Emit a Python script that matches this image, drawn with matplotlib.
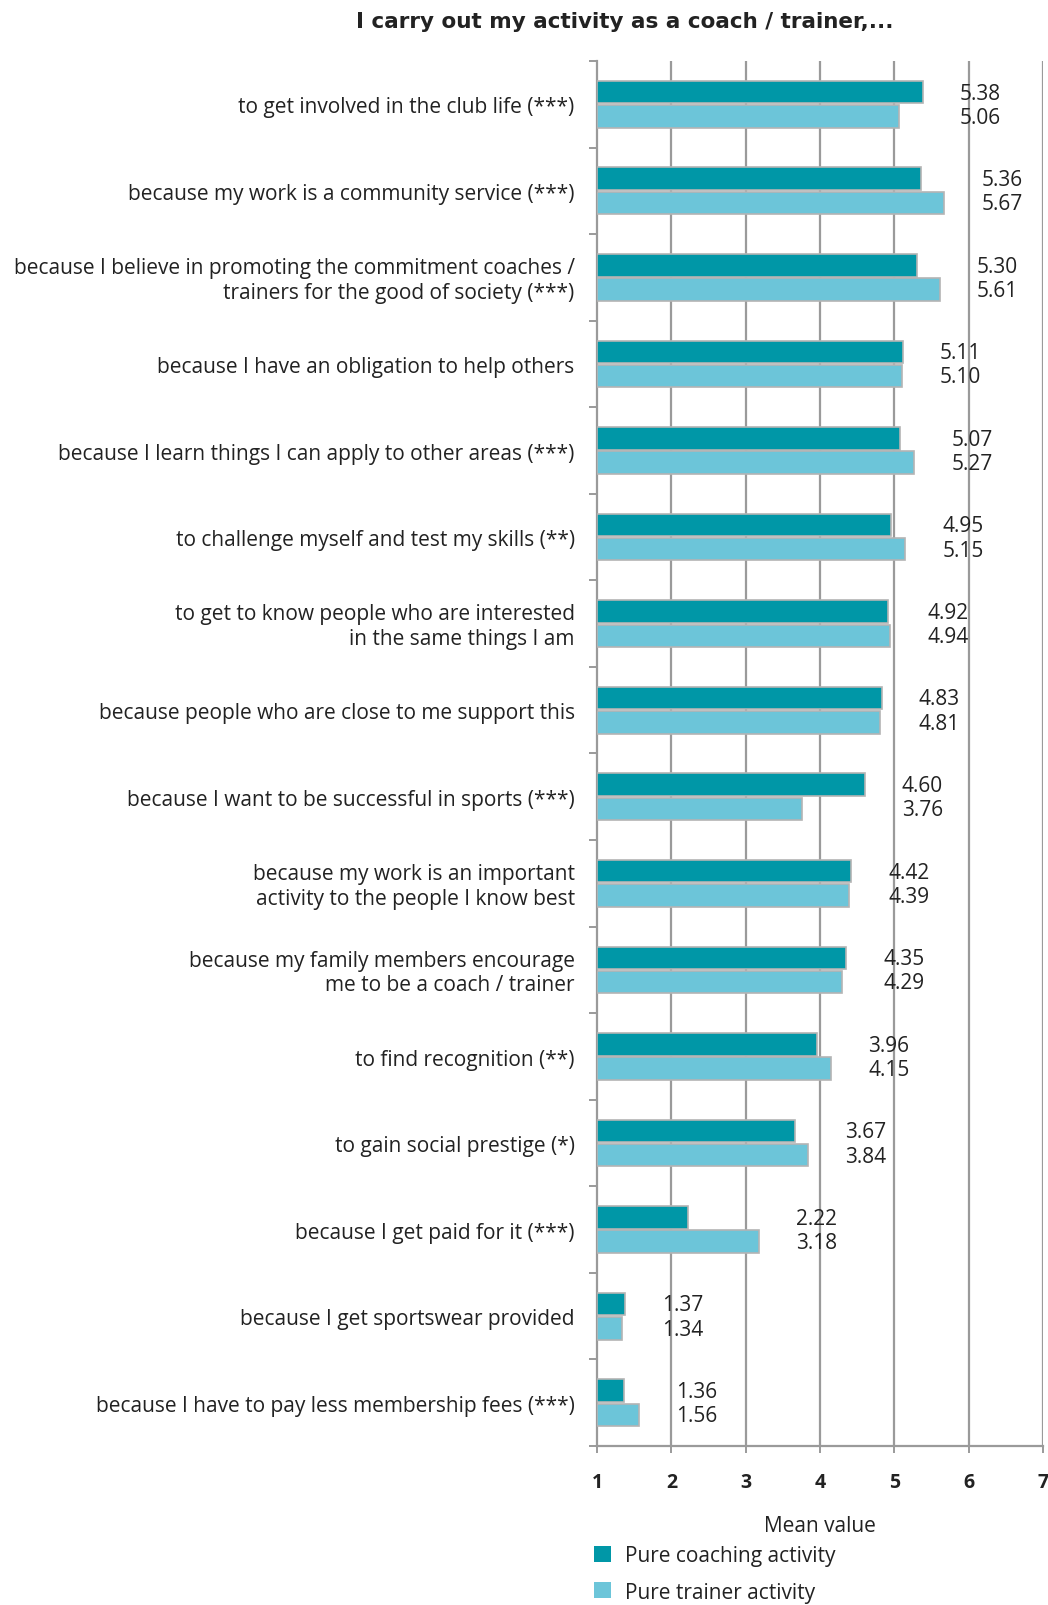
import numpy as np
import matplotlib
matplotlib.use("Agg")
from matplotlib import pyplot as plt
from matplotlib.patches import Patch

# motive items, top to bottom
categorie = [
    "to get involved in the club life (***)",
    "because my work is a community service (***)",
    "because I believe in promoting the commitment coaches /\ntrainers for the good of society (***)",
    "because I have an obligation to help others",
    "because I learn things I can apply to other areas (***)",
    "to challenge myself and test my skills (**)",
    "to get to know people who are interested\nin the same things I am",
    "because people who are close to me support this",
    "because I want to be successful in sports (***)",
    "because my work is an important\nactivity to the people I know best",
    "because my family members encourage\nme to be a coach / trainer",
    "to find recognition (**)",
    "to gain social prestige (*)",
    "because I get paid for it (***)",
    "because I get sportswear provided",
    "because I have to pay less membership fees (***)",
]
coaching = [5.38, 5.36, 5.30, 5.11, 5.07, 4.95, 4.92, 4.83, 4.60, 4.42, 4.35, 3.96, 3.67, 2.22, 1.37, 1.36]
trainer = [5.06, 5.67, 5.61, 5.10, 5.27, 5.15, 4.94, 4.81, 3.76, 4.39, 4.29, 4.15, 3.84, 3.18, 1.34, 1.56]
xticks = [1, 2, 3, 4, 5, 6, 7]

col_scuro = "#0097a7"
col_chiaro = "#6cc5d9"
col_bordo = "#b4b4b4"
col_griglia = "#9a9a9a"

plt.rcParams['font.family'] = ['Open Sans', 'DejaVu Sans']

fig = plt.figure(figsize=(10.48, 16.06), dpi=100)
ax = fig.add_axes([0.5697, 0.0990, 0.4255, 0.8624])

y = np.arange(len(categorie))
h = 0.26
off = 0.14
ax.barh(y - off, np.array(coaching) - 1, left=1, height=h, color=col_scuro,
        edgecolor=col_bordo, linewidth=1.2, zorder=3)
ax.barh(y + off, np.array(trainer) - 1, left=1, height=h, color=col_chiaro,
        edgecolor=col_bordo, linewidth=1.2, zorder=3)

# value labels, right of the longer bar
for i in range(len(categorie)):
    xl = max(coaching[i], trainer[i]) + 0.5
    ax.text(xl, i - off + 0.01, "%.2f" % coaching[i], va='center', ha='left',
            fontsize=15, color='#222222', zorder=4)
    ax.text(xl, i + off + 0.01, "%.2f" % trainer[i], va='center', ha='left',
            fontsize=15, color='#222222', zorder=4)

ax.set_xlim(1, 7)
ax.set_ylim(len(categorie) - 0.5, -0.5)
ax.set_xticks(xticks)
ax.set_xticklabels([str(t) for t in xticks], fontsize=14, fontweight='bold', color='#222222')

# category labels placed by hand, ticks at band boundaries
ax.set_yticks(np.arange(len(categorie) + 1) - 0.5)
ax.set_yticklabels([])
for i, c in enumerate(categorie):
    ax.text(-0.05, i + 0.03, c, transform=ax.get_yaxis_transform(), ha='right', va='center',
            fontsize=15.0, color='#222222', linespacing=1.22)

for xv in xticks[1:]:
    ax.axvline(xv, color=col_griglia, linewidth=1.6, zorder=1)

for s in ['top', 'right']:
    ax.spines[s].set_visible(False)
for s in ['left', 'bottom']:
    ax.spines[s].set_color(col_griglia)
    ax.spines[s].set_linewidth(1.6)
ax.tick_params(axis='y', length=6, width=1.4, color=col_griglia)
ax.tick_params(axis='x', length=5, width=1.4, color=col_griglia, pad=14)

ax.set_xlabel("Mean value", fontsize=15, color='#222222', labelpad=16)

fig.text(0.596, 0.986, "I carry out my activity as a coach / trainer,...",
         ha='center', va='center', fontsize=15.5, fontweight='bold',
         family='DejaVu Sans', color='#222222')

maniglie = [Patch(facecolor=col_scuro, edgecolor='none', label='Pure coaching activity'),
            Patch(facecolor=col_chiaro, edgecolor='none', label='Pure trainer activity')]
fig.legend(handles=maniglie, loc='upper left', bbox_to_anchor=(0.549, 0.049),
           frameon=False, fontsize=15, handlelength=0.8, handleheight=0.8,
           handletextpad=0.7, labelspacing=0.75, labelcolor='#222222')

plt.savefig('out.png', dpi=100)
